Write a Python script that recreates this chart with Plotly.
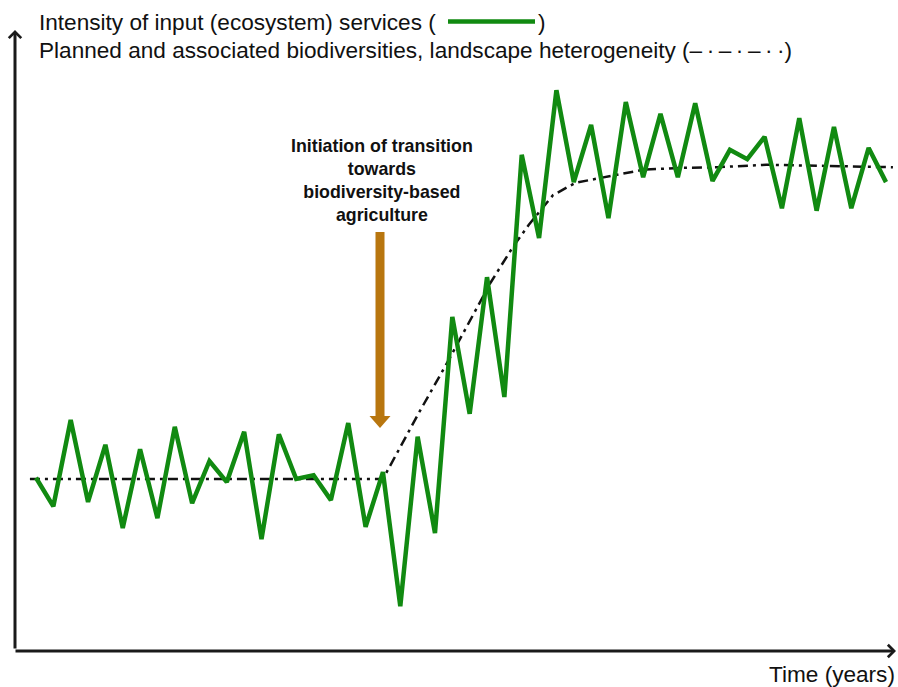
import plotly.graph_objects as go

# ---- data ----
years = list(range(50))
input_services = [27.9, 23.3, 37.2, 24.0, 33.2, 19.8, 32.5, 21.4, 36.1, 23.8,
                  30.6, 27.2, 35.3, 18.0, 34.9, 27.7, 28.3, 24.3, 36.7, 20.0,
                  28.8, 7.2, 34.5, 19.0, 53.8, 38.2, 60.2, 40.9, 79.9, 66.5,
                  90.3, 75.5, 84.7, 69.7, 88.4, 76.3, 86.5, 76.3, 88.2, 75.7,
                  80.7, 79.2, 82.8, 71.3, 85.8, 70.9, 84.4, 71.3, 81.0, 75.5]
biodiv_x = [-0.35, 20.0, 22.1, 23.7, 26.2, 27.5, 28.4, 29.1, 29.8, 31.1,
            33.1, 35.0, 37.1, 39.3, 42.1, 45.9, 49.4]
biodiv_y = [27.7, 27.7, 38.5, 46.4, 59.3, 65.1, 68.6, 71.0, 73.4, 75.4,
            76.5, 77.5, 77.8, 77.9, 78.3, 78.1, 77.9]

title_line1 = "Intensity of input (ecosystem) services ("
title_line2 = ("Planned and associated biodiversities, landscape heterogeneity "
               "(–\u2009·\u2009–\u2009·\u2009–\u2009·\u2009·)")
x_label = "Time (years)"
transition_label = "Initiation of transition<br>towards<br>biodiversity-based<br>agriculture"

# ---- layout helpers ----
W, H = 898, 687
ML, MR, MT, MB = 15, 0, 30, 36
PW, PH = W - ML - MR, H - MT - MB


def px(xp):
    return (xp - ML) / PW


def py(yp):
    return (H - MB - yp) / PH


FONT = "Liberation Sans, Arial, sans-serif"
GREEN = "#118a11"
BROWN = "#b8760f"
AXIS = "#1a1a1a"
TXT = 22.6

fig = go.Figure()
fig.add_trace(go.Scatter(x=biodiv_x, y=biodiv_y, mode="lines",
                         line=dict(color="#111111", width=2.5, dash="10px,5px,3px,5px"),
                         hoverinfo="skip", showlegend=False))
fig.add_trace(go.Scatter(x=years, y=input_services, mode="lines",
                         line=dict(color=GREEN, width=4.5),
                         showlegend=False))

x0 = -21 / 17.347
x1 = x0 + PW / 17.347

annotations = [
    # axes as arrows
    dict(x=px(15), y=py(30), xref="paper", yref="paper", ax=0, ay=620,
         axref="pixel", ayref="pixel", showarrow=True, text="",
         arrowhead=4, arrowsize=0.8, arrowwidth=3, arrowcolor=AXIS),
    dict(x=px(896), y=py(651), xref="paper", yref="paper", ax=-882, ay=0,
         showarrow=True, text="",
         arrowhead=4, arrowsize=0.8, arrowwidth=3, arrowcolor=AXIS),
    dict(x=px(37), y=py(22.5), xref="paper", yref="paper", text=title_line1,
         showarrow=False, xanchor="left", yanchor="middle",
         font=dict(family=FONT, size=TXT, color="#111111")),
    dict(x=px(536), y=py(22.5), xref="paper", yref="paper", text=")",
         showarrow=False, xanchor="left", yanchor="middle",
         font=dict(family=FONT, size=TXT, color="#111111")),
    dict(x=px(37), y=py(50), xref="paper", yref="paper", text=title_line2,
         showarrow=False, xanchor="left", yanchor="middle",
         font=dict(family=FONT, size=TXT, color="#111111")),
    dict(x=px(897), y=py(674), xref="paper", yref="paper", text=x_label,
         showarrow=False, xanchor="right", yanchor="middle",
         font=dict(family=FONT, size=TXT, color="#111111")),
    dict(x=px(382), y=py(180.5), xref="paper", yref="paper", text=transition_label,
         showarrow=False, xanchor="center", yanchor="middle", align="center",
         font=dict(family=FONT, size=17.8, color="#111111", weight="bold")),
]

shapes = [
    dict(type="line", xref="paper", yref="paper", x0=px(448), x1=px(535),
         y0=py(21.5), y1=py(21.5), line=dict(color=GREEN, width=4.5)),
    dict(type="rect", xref="paper", yref="paper", x0=px(375.5), x1=px(384.5),
         y0=py(416), y1=py(232), fillcolor=BROWN, line=dict(width=0)),
    dict(type="path", xref="paper", yref="paper",
         path=f"M {px(369.5)} {py(416)} L {px(390.5)} {py(416)} L {px(380)} {py(428)} Z",
         fillcolor=BROWN, line=dict(width=0)),
]

fig.update_layout(
    width=W, height=H,
    margin=dict(l=ML, r=MR, t=MT, b=MB, pad=0),
    paper_bgcolor="white", plot_bgcolor="white",
    xaxis=dict(range=[x0, x1], visible=False, fixedrange=True),
    yaxis=dict(range=[0, 100], visible=False, fixedrange=True),
    annotations=annotations, shapes=shapes,
    showlegend=False,
)

fig.write_html("out.html",
               config={"displayModeBar": False, "staticPlot": True},
               post_script="document.body.style.margin='0px';document.body.style.overflow='hidden';")
